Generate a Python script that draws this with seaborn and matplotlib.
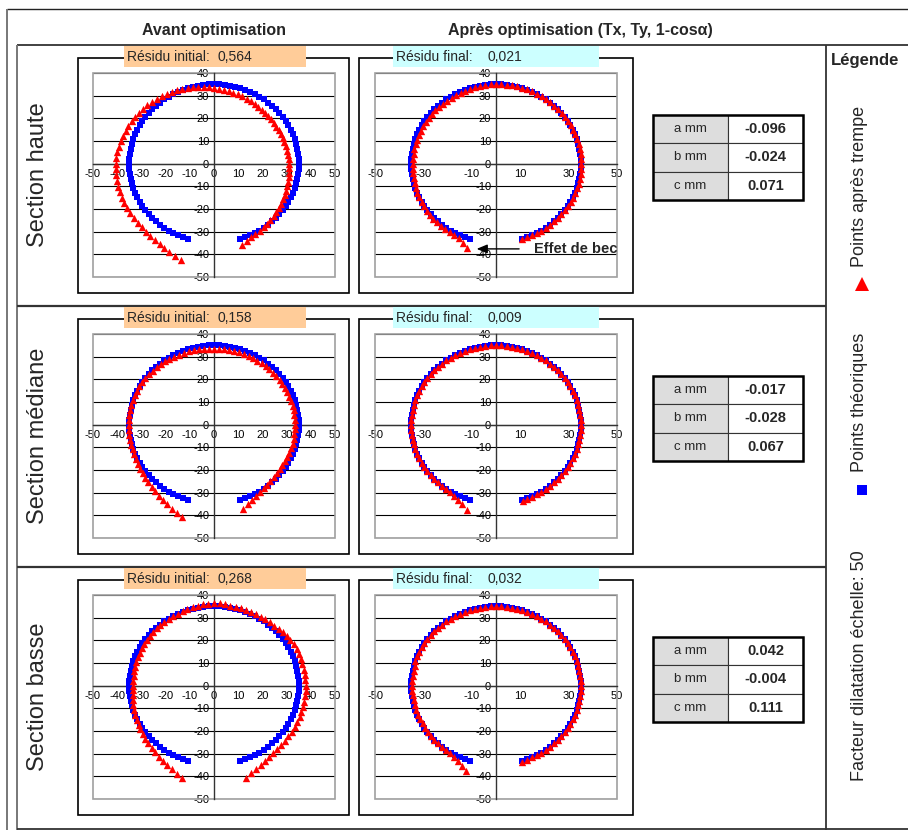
import numpy as np
import pandas as pd
import seaborn as sns
import matplotlib.pyplot as plt
from matplotlib.patches import Rectangle

sns.set_style('white')
plt.rcParams['font.family'] = ['Liberation Sans', 'DejaVu Sans']
plt.rcParams['axes.unicode_minus'] = False

# angular position of each point (degrees), same for every section
angles = [-72.0, -68.4, -64.8, -61.2, -57.6, -54.0, -50.4, -46.8, -43.2, -39.6,
          -36.0, -32.4, -28.8, -25.2, -21.6, -18.0, -14.4, -10.8, -7.2, -3.6,
          0.0, 3.6, 7.2, 10.8, 14.4, 18.0, 21.6, 25.2, 28.8, 32.4,
          36.0, 39.6, 43.2, 46.8, 50.4, 54.0, 57.6, 61.2, 64.8, 68.4,
          72.0, 75.6, 79.2, 82.8, 86.4, 90.0, 93.6, 97.2, 100.8, 104.4,
          108.0, 111.6, 115.2, 118.8, 122.4, 126.0, 129.6, 133.2, 136.8, 140.4,
          144.0, 147.6, 151.2, 154.8, 158.4, 162.0, 165.6, 169.2, 172.8, 176.4,
          180.0, 183.6, 187.2, 190.8, 194.4, 198.0, 201.6, 205.2, 208.8, 212.4,
          216.0, 219.6, 223.2, 226.8, 230.4, 234.0, 237.6, 241.2, 244.8, 248.4,
          252.0]
theo_radius = 35.0

# radius of the points after quench (red)
haute_avant = [37.8, 36.6, 35.8, 35.4, 35.1, 34.8, 34.5, 34.1, 33.8, 33.5,
               33.2, 33.0, 32.7, 32.4, 32.2, 31.9, 31.7, 31.5, 31.3, 31.2,
               31.0, 30.9, 30.8, 30.7, 30.6, 30.5, 30.5, 30.5, 30.5, 30.5,
               30.6, 30.7, 30.8, 30.9, 31.0, 31.1, 31.3, 31.5, 31.7, 31.9,
               32.1, 32.4, 32.7, 32.9, 33.2, 33.5, 33.8, 34.1, 34.4, 34.8,
               35.1, 35.4, 35.7, 36.1, 36.4, 36.7, 37.1, 37.4, 37.7, 38.0,
               38.3, 38.6, 38.8, 39.1, 39.3, 39.6, 39.8, 40.0, 40.2, 40.4,
               40.5, 40.6, 40.7, 40.8, 40.9, 41.0, 41.0, 41.0, 41.0, 41.0,
               40.9, 40.9, 40.9, 41.1, 41.4, 41.7, 42.0, 42.7, 43.2, 44.0,
               44.6]
haute_apres = [35.0, 34.9, 34.9, 35.0, 35.0, 35.0, 35.0, 35.0, 35.0, 35.0,
               35.0, 35.2, 35.2, 35.2, 35.2, 35.2, 35.2, 35.2, 35.2, 35.2,
               35.2, 35.2, 35.2, 35.2, 35.2, 35.2, 35.2, 35.2, 35.2, 35.2,
               35.2, 35.2, 35.2, 35.2, 35.2, 35.2, 35.2, 35.2, 35.2, 35.2,
               35.2, 35.2, 35.2, 35.2, 35.2, 35.2, 35.0, 34.9, 34.8, 34.7,
               34.6, 34.5, 34.4, 34.4, 34.3, 34.3, 34.3, 34.3, 34.3, 34.3,
               34.3, 34.3, 34.3, 34.3, 34.3, 34.3, 34.3, 34.3, 34.3, 34.3,
               34.3, 34.4, 34.5, 34.6, 34.7, 34.8, 34.9, 35.0, 35.1, 35.2,
               35.3, 35.4, 35.5, 35.5, 35.6, 35.6, 35.6, 35.7, 36.2, 37.5,
               39.1]
mediane_avant = [39.0, 37.8, 36.8, 36.0, 35.3, 34.8, 34.4, 34.1, 33.8, 33.6,
                 33.5, 33.5, 33.5, 33.5, 33.5, 33.5, 33.5, 33.5, 33.5, 33.5,
                 33.5, 33.5, 33.5, 33.5, 33.5, 33.5, 33.5, 33.5, 33.5, 33.5,
                 33.5, 33.5, 33.5, 33.5, 33.5, 33.5, 33.5, 33.5, 33.5, 33.5,
                 33.5, 33.5, 33.5, 33.5, 33.5, 33.5, 33.6, 33.7, 33.8, 33.9,
                 34.0, 34.1, 34.2, 34.3, 34.4, 34.5, 34.6, 34.7, 34.8, 34.9,
                 35.0, 35.2, 35.2, 35.2, 35.2, 35.2, 35.2, 35.2, 35.2, 35.2,
                 35.2, 35.2, 35.2, 35.2, 35.2, 35.2, 35.4, 35.6, 35.8, 36.1,
                 36.4, 36.8, 37.2, 37.7, 38.2, 38.8, 39.4, 40.1, 40.9, 41.8,
                 42.9]
mediane_apres = [35.6, 35.3, 35.1, 35.0, 35.0, 35.0, 35.0, 35.0, 35.0, 35.0,
                 35.0, 35.0, 35.0, 35.0, 35.0, 35.0, 35.0, 35.0, 35.0, 35.0,
                 35.0, 35.0, 35.0, 35.0, 35.0, 35.0, 35.0, 35.0, 35.0, 35.0,
                 35.0, 35.0, 35.0, 35.0, 35.0, 35.0, 35.0, 35.0, 35.0, 35.0,
                 35.0, 35.0, 35.0, 35.0, 35.0, 35.0, 35.0, 35.0, 35.0, 35.0,
                 35.0, 35.0, 35.0, 35.0, 35.0, 35.0, 35.0, 35.0, 35.0, 35.0,
                 35.0, 35.0, 35.0, 35.0, 35.0, 35.0, 35.0, 35.0, 35.0, 35.0,
                 35.0, 35.0, 35.0, 35.0, 35.0, 35.0, 35.0, 35.0, 35.0, 35.0,
                 35.0, 35.0, 35.0, 35.0, 35.0, 35.0, 35.3, 35.8, 36.6, 37.8,
                 39.4]
basse_avant = [42.9, 41.5, 40.6, 40.0, 39.4, 38.9, 38.5, 38.2, 38.0, 38.0,
               38.0, 38.0, 38.0, 38.0, 38.0, 38.0, 38.0, 38.0, 38.0, 38.0,
               38.0, 37.7, 37.7, 37.7, 37.7, 37.7, 37.7, 37.7, 37.7, 37.4,
               37.2, 37.0, 36.7, 36.4, 36.2, 36.1, 36.0, 36.0, 35.9, 35.8,
               35.8, 35.9, 36.0, 36.2, 36.4, 36.6, 36.3, 36.1, 35.9, 35.7,
               35.5, 35.3, 35.1, 35.0, 34.9, 34.8, 34.7, 34.6, 34.5, 34.4,
               34.3, 34.2, 34.1, 34.0, 33.9, 33.8, 33.7, 33.6, 33.5, 33.5,
               33.5, 33.7, 33.9, 34.1, 34.4, 34.7, 35.0, 35.3, 35.6, 36.0,
               36.4, 36.8, 37.2, 37.7, 38.2, 38.7, 39.3, 40.0, 40.8, 41.8,
               43.0]
basse_apres = [35.3, 35.1, 35.0, 35.0, 35.0, 35.0, 35.0, 35.0, 35.0, 35.0,
               35.0, 35.0, 35.0, 35.0, 35.0, 35.0, 35.0, 35.0, 35.0, 35.0,
               35.0, 35.0, 35.0, 35.0, 35.0, 35.0, 35.0, 35.0, 35.0, 35.0,
               35.0, 35.0, 35.0, 35.0, 35.0, 35.0, 35.0, 35.0, 35.0, 35.0,
               35.0, 35.0, 35.0, 35.0, 35.0, 35.0, 35.0, 35.0, 35.0, 35.0,
               35.0, 35.0, 35.0, 35.0, 35.0, 35.0, 35.0, 35.0, 35.0, 35.0,
               35.0, 35.0, 35.0, 35.0, 35.0, 35.0, 34.6, 34.6, 34.6, 34.6,
               34.6, 34.6, 34.6, 34.6, 34.6, 34.6, 34.6, 34.6, 34.6, 34.6,
               34.6, 35.0, 35.0, 35.0, 35.0, 35.0, 35.4, 36.0, 36.9, 38.2,
               39.8]

sections = ['Section haute', 'Section médiane', 'Section basse']
residu_initial = [0.564, 0.158, 0.268]
residu_final = [0.021, 0.009, 0.032]
param_names = ['a mm', 'b mm', 'c mm']
param_values = [[-0.096, -0.024, 0.071],
                [-0.017, -0.028, 0.067],
                [0.042, -0.004, 0.111]]

W, H = 908, 830
fig = plt.figure(figsize=(W / 100, H / 100), dpi=100)


def box(x0, y0, x1, y1):
    return [x0 / W, 1 - y1 / H, (x1 - x0) / W, (y1 - y0) / H]


# background layer in pixel coordinates for the frame of the sheet
bg = fig.add_axes([0, 0, 1, 1])
bg.set_xlim(0, W)
bg.set_ylim(H, 0)
bg.axis('off')


def line(xs, ys, lw=1.3, c='#333333'):
    bg.plot(xs, ys, color=c, lw=lw, solid_capstyle='butt')


line([7, W], [9, 9], lw=1.0, c='#222222')
line([7, 7], [9, H], lw=1.4, c='#777777')
line([17, W], [45, 45], lw=1.3)
line([17, 17], [45, H], lw=1.4, c='#777777')
line([17, 826], [306, 306], lw=1.6)
line([17, 826], [567, 567], lw=1.6)
line([17, W], [829, 829], lw=1.3)
line([826, 826], [45, H], lw=1.3)

bg.text(214, 30, 'Avant optimisation', ha='center', va='center', fontsize=11.5, fontweight='bold')
bg.text(580, 30, 'Après optimisation (Tx, Ty, 1-cosα)', ha='center', va='center', fontsize=11.5,
        fontweight='bold')

# legend column
bg.text(865, 61, 'Légende', ha='center', va='center', fontsize=12, fontweight='bold')
bg.text(860, 186, 'Points après trempe', rotation=90, ha='center', va='center', fontsize=13)
bg.plot(862, 284, marker='^', color='#FF0000', ms=10, mew=0)
bg.text(860, 402, 'Points théoriques', rotation=90, ha='center', va='center', fontsize=13)
bg.plot(862, 490, marker='s', color='#0000FF', ms=6.5, mew=0)
bg.text(860, 666, 'Facteur dilatation échelle: 50', rotation=90, ha='center', va='center', fontsize=13)


def draw_chart(x0, x1, top, radii, sparse):
    ax = fig.add_axes(box(x0, top + 28, x1, top + 232))
    th = np.deg2rad(angles)
    theo = pd.DataFrame({'x': theo_radius * np.cos(th), 'y': theo_radius * np.sin(th)})
    meas = pd.DataFrame({'x': np.array(radii) * np.cos(th), 'y': np.array(radii) * np.sin(th)})
    sns.scatterplot(data=theo, x='x', y='y', marker='s', color='#0000FF', s=16,
                    linewidth=0, ax=ax, zorder=3)
    sns.scatterplot(data=meas, x='x', y='y', marker='^', color='#FF0000', s=28,
                    linewidth=0, ax=ax, zorder=4)
    ax.set_xlim(-50, 50)
    ax.set_ylim(-50, 40)
    ax.set_xticks(range(-50, 51, 10))
    ax.set_yticks(range(-50, 41, 10))
    if sparse:
        ax.set_xticklabels([str(v) if v % 20 else '' for v in range(-50, 51, 10)])
    ax.set_xlabel('')
    ax.set_ylabel('')
    ax.spines['top'].set_visible(False)
    ax.spines['right'].set_visible(False)
    for s in ['left', 'bottom']:
        ax.spines[s].set_position(('data', 0))
        ax.spines[s].set_color('#333333')
        ax.spines[s].set_linewidth(1.0)
    ax.tick_params(direction='inout', length=5, width=0.8, labelsize=8, pad=1,
                   color='#333333', labelcolor='black')
    ax.yaxis.grid(True, color='black', lw=0.8)
    ax.xaxis.grid(False)
    ax.set_axisbelow(True)
    ax.add_patch(Rectangle((0, 0), 1, 1, transform=ax.transAxes, fill=False,
                           ec='#A0A0A0', lw=1.2, clip_on=False, zorder=2))
    return ax


rows_top = [45, 306, 567]
avant = [haute_avant, mediane_avant, basse_avant]
apres = [haute_apres, mediane_apres, basse_apres]

for i, top in enumerate(rows_top):
    bg.text(38, top + 130, sections[i], rotation=90, ha='center', va='center', fontsize=17)

    # chart frames and residual labels
    bg.add_patch(Rectangle((78, top + 13), 271, 235, fill=False, ec='black', lw=1.2))
    bg.add_patch(Rectangle((359, top + 13), 274, 235, fill=False, ec='black', lw=1.2))
    bg.add_patch(Rectangle((124, top + 1), 182, 21, fc='#FFCC99', ec='none', zorder=5))
    bg.add_patch(Rectangle((393, top + 1), 206, 21, fc='#CCFFFF', ec='none', zorder=5))
    bg.text(127, top + 12, 'Résidu initial:', va='center', fontsize=10, zorder=6)
    bg.text(218, top + 12, f'{residu_initial[i]:.3f}'.replace('.', ','), va='center', fontsize=10, zorder=6)
    bg.text(396, top + 12, 'Résidu final:', va='center', fontsize=10, zorder=6)
    bg.text(487, top + 12, f'{residu_final[i]:.3f}'.replace('.', ','), va='center', fontsize=10, zorder=6)

    # parameter table
    y0 = top + 70
    rh = 28.33
    for j, name in enumerate(param_names):
        y = y0 + j * rh
        bg.add_patch(Rectangle((653, y), 75, rh, fc='#DDDDDD', ec='#333333', lw=0.8))
        bg.add_patch(Rectangle((728, y), 75, rh, fc='white', ec='#333333', lw=0.8))
        bg.text(690.5, y + rh / 2, name, ha='center', va='center', fontsize=9.5)
        bg.text(765.5, y + rh / 2, f'{param_values[i][j]:.3f}', ha='center', va='center',
                fontsize=10.5, fontweight='bold')
    bg.add_patch(Rectangle((653, y0), 150, 3 * rh, fill=False, ec='black', lw=1.8))

    draw_chart(93, 335, top, avant[i], False)
    ax2 = draw_chart(375, 617, top, apres[i], True)
    if i == 0:
        ax2.annotate('Effet de bec', xy=(-8, -37.6), xytext=(15.5, -37.6), ha='left', va='center',
                     fontsize=10.5, fontweight='bold', annotation_clip=False, zorder=6,
                     arrowprops=dict(arrowstyle='-|>,head_length=0.6,head_width=0.25',
                                     color='black', lw=1, shrinkA=8, shrinkB=0))

plt.savefig('out.png', dpi=100)
